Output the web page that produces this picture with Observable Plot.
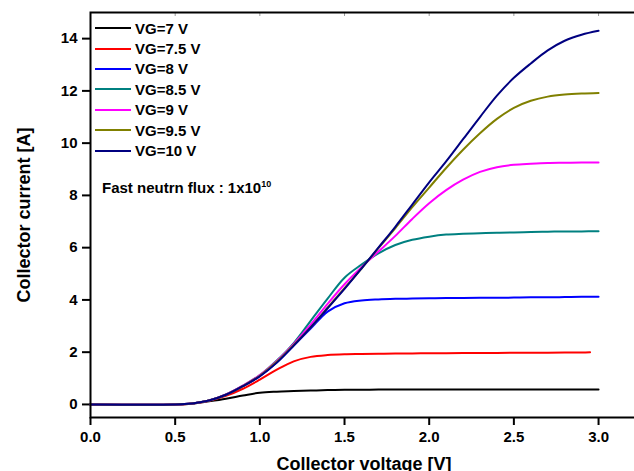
<!DOCTYPE html>
<html>
<head>
<meta charset="utf-8">
<script src="https://cdn.jsdelivr.net/npm/d3@7"></script>
<script src="https://cdn.jsdelivr.net/npm/@observablehq/plot@0.6"></script>
<style>
  body { margin: 0; background: #fff; font-family: "Liberation Sans", Arial, sans-serif; }
  #wrap { position: relative; width: 634px; height: 471px; overflow: hidden; }
  #legend { position: absolute; left: 95px; top: 18px; font: bold 15px "Liberation Sans", Arial, sans-serif; }
  .row { display: flex; align-items: center; height: 20.4px; }
  .sw { display: inline-block; width: 36px; height: 2px; margin-right: 4px; }
  #note { position: absolute; left: 102px; top: 180px; font: bold 15px "Liberation Sans", Arial, sans-serif; line-height: 15px; white-space: nowrap; }
  #note sup { font-size: 9px; line-height: 0; vertical-align: 6px; }
</style>
</head>
<body>
<div id="wrap"></div>
<script>
// ---- data ----
const seriesNames = ["VG=7 V", "VG=7.5 V", "VG=8 V", "VG=8.5 V", "VG=9 V", "VG=9.5 V", "VG=10 V"];
const seriesColors = ["#000000", "#ff0000", "#0000ff", "#008080", "#ff00ff", "#808000", "#000080"];
const voltage    = [0, 0.5, 0.6, 0.7, 0.8, 0.9, 1.0, 1.1, 1.2, 1.3, 1.4, 1.5, 1.6, 1.7, 1.8, 1.9, 2.0, 2.1, 2.2, 2.3, 2.4, 2.5, 2.6, 2.7, 2.8, 2.9, 3.0];
const voltageRed = [0, 0.5, 0.6, 0.7, 0.8, 0.9, 1.0, 1.1, 1.2, 1.3, 1.4, 1.5, 1.6, 1.7, 1.8, 1.9, 2.0, 2.1, 2.2, 2.3, 2.4, 2.5, 2.6, 2.7, 2.8, 2.9, 2.95];
const iVG7   = [0, 0, 0.03, 0.12, 0.22, 0.34, 0.45, 0.49, 0.51, 0.53, 0.55, 0.56, 0.56, 0.57, 0.57, 0.57, 0.57, 0.57, 0.57, 0.57, 0.57, 0.57, 0.57, 0.57, 0.57, 0.57, 0.57];
const iVG75  = [0, 0, 0.04, 0.14, 0.33, 0.6, 0.95, 1.33, 1.65, 1.82, 1.89, 1.92, 1.93, 1.94, 1.95, 1.95, 1.96, 1.96, 1.97, 1.97, 1.97, 1.98, 1.98, 1.98, 1.99, 1.99, 2.0];
const iVG8   = [0, 0, 0.04, 0.15, 0.37, 0.7, 1.08, 1.6, 2.25, 2.9, 3.55, 3.87, 3.98, 4.02, 4.04, 4.05, 4.06, 4.07, 4.07, 4.08, 4.08, 4.09, 4.1, 4.1, 4.11, 4.12, 4.12];
const iVG85  = [0, 0, 0.04, 0.15, 0.38, 0.72, 1.12, 1.68, 2.35, 3.2, 4.05, 4.85, 5.35, 5.78, 6.1, 6.3, 6.42, 6.5, 6.53, 6.55, 6.57, 6.58, 6.6, 6.61, 6.62, 6.62, 6.63];
const iVG9   = [0, 0, 0.04, 0.15, 0.38, 0.72, 1.12, 1.66, 2.32, 3.05, 3.85, 4.6, 5.25, 5.85, 6.45, 7.1, 7.7, 8.2, 8.6, 8.9, 9.08, 9.17, 9.21, 9.24, 9.25, 9.26, 9.26];
const iVG95  = [0, 0, 0.04, 0.15, 0.37, 0.7, 1.1, 1.63, 2.28, 2.95, 3.7, 4.45, 5.2, 5.98, 6.75, 7.55, 8.3, 9.05, 9.75, 10.38, 10.93, 11.35, 11.62, 11.78, 11.86, 11.9, 11.92];
const iVG10  = [0, 0, 0.04, 0.15, 0.37, 0.7, 1.08, 1.6, 2.25, 2.95, 3.68, 4.42, 5.2, 6.0, 6.8, 7.65, 8.5, 9.3, 10.15, 11.0, 11.82, 12.5, 13.05, 13.55, 13.92, 14.15, 14.3];
const xTicks = [0, 0.5, 1.0, 1.5, 2.0, 2.5, 3.0];
const yTicks = [0, 2, 4, 6, 8, 10, 12, 14];
const xLabel = "Collector voltage [V]";
const yLabel = "Collector current [A]";
const noteText = "Fast neutrn flux : 1x10";
const noteSup = "10";

const currents = [iVG7, iVG75, iVG8, iVG85, iVG9, iVG95, iVG10];
const xs = [voltage, voltageRed, voltage, voltage, voltage, voltage, voltage];
const rows = [];
currents.forEach((arr, s) => arr.forEach((v, i) => rows.push({series: seriesNames[s], V: xs[s][i], I: v})));

const font = '"Liberation Sans", Arial, sans-serif';
const chart = Plot.plot({
  width: 634,
  height: 471,
  marginLeft: 90,
  marginRight: -3,
  marginTop: 12,
  marginBottom: 54,
  style: {fontFamily: font, fontSize: "15px", fontWeight: "bold", color: "#000", background: "#fff"},
  x: {domain: [0, 3.23]},
  y: {domain: [-0.5, 15]},
  color: {domain: seriesNames, range: seriesColors},
  marks: [
    Plot.axisX({ticks: xTicks, tickFormat: d3.format(".1f"), tickSize: 8, tickPadding: 6, strokeWidth: 2, label: null}),
    Plot.axisX({anchor: "top", ticks: xTicks, tickSize: -3, tickFormat: () => "", stroke: "#999", strokeWidth: 1, label: null}),
    Plot.axisY({ticks: yTicks, tickSize: 8, tickPadding: 5, strokeWidth: 2, label: null}),
    Plot.line(rows, {x: "V", y: "I", z: "series", stroke: "series", strokeWidth: 2, curve: "catmull-rom"}),
    Plot.frame({stroke: "#000", strokeWidth: 2}),
    Plot.text([xLabel], {text: d => d, frameAnchor: "bottom", dy: 47, fontSize: 18, fontWeight: "bold", lineAnchor: "middle", textAnchor: "middle"}),
    Plot.text([yLabel], {text: d => d, frameAnchor: "left", dx: -66, rotate: -90, fontSize: 18, fontWeight: "bold", lineAnchor: "middle", textAnchor: "middle"})
  ]
});
const wrap = document.getElementById("wrap");
wrap.appendChild(chart);

// legend
const lg = document.createElement("div");
lg.id = "legend";
seriesNames.forEach((n, i) => {
  const r = document.createElement("div");
  r.className = "row";
  const sw = document.createElement("span");
  sw.className = "sw";
  sw.style.background = seriesColors[i];
  const t = document.createElement("span");
  t.textContent = n;
  r.appendChild(sw); r.appendChild(t);
  lg.appendChild(r);
});
wrap.appendChild(lg);

// annotation
const note = document.createElement("div");
note.id = "note";
note.appendChild(document.createTextNode(noteText));
const sup = document.createElement("sup");
sup.textContent = noteSup;
note.appendChild(sup);
wrap.appendChild(note);
</script>
</body>
</html>
